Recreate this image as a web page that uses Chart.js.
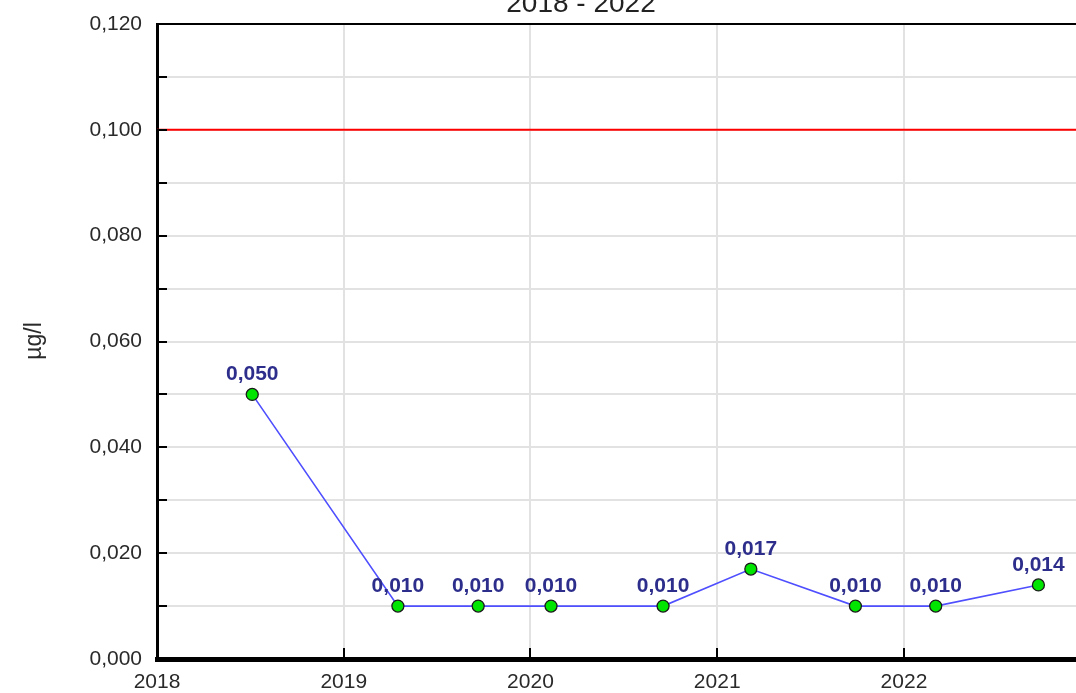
<!DOCTYPE html>
<html>
<head>
<meta charset="utf-8">
<script src="https://cdn.jsdelivr.net/npm/chart.js@4"></script>
<style>
	html, body { margin: 0; padding: 0; background: #fff; overflow: hidden; }
	#wrap { width: 1076px; height: 693px; overflow: hidden; }
	canvas { display: block; }
</style>
</head>
<body>
<div id="wrap"><canvas id="chart" width="1098" height="693"></canvas></div>
<script>
// Messwerte 2018 - 2022
const TITLE = '2018 - 2022';
const Y_TITLE = 'µg/l';
const SAMPLE_DATES = [2018.51, 2019.29, 2019.72, 2020.11, 2020.71, 2021.18, 2021.74, 2022.17, 2022.72];
const VALUES = [0.050, 0.010, 0.010, 0.010, 0.010, 0.017, 0.010, 0.010, 0.014];
const LIMIT = 0.100;
const YEARS = [2018, 2019, 2020, 2021, 2022];
const Y_LABELS = [0, 0.02, 0.04, 0.06, 0.08, 0.10, 0.12];

const FONT = '"Liberation Sans", Arial, sans-serif';
const fmt = v => v.toFixed(3).replace('.', ',');

// inward tick marks, frame, value labels and axis texts
const decor = {
	id: 'decor',
	afterDatasetsDraw(chart) {
		const { ctx, chartArea: a, scales: { x, y } } = chart;
		ctx.save();
		ctx.strokeStyle = '#000';
		ctx.lineWidth = 2;
		ctx.beginPath(); ctx.moveTo(a.left, a.top); ctx.lineTo(a.right, a.top); ctx.stroke();
		y.ticks.forEach(t => {
			const py = Math.round(y.getPixelForValue(t.value));
			ctx.beginPath(); ctx.moveTo(a.left, py); ctx.lineTo(a.left + 10, py); ctx.stroke();
		});
		x.ticks.forEach(t => {
			const px = Math.round(x.getPixelForValue(t.value));
			ctx.beginPath(); ctx.moveTo(px, a.bottom); ctx.lineTo(px, a.bottom - 11); ctx.stroke();
		});
		// value labels
		const meta = chart.getDatasetMeta(1);
		ctx.font = 'bold 21px ' + FONT;
		ctx.fillStyle = '#2d2d8c';
		ctx.textAlign = 'center';
		ctx.textBaseline = 'alphabetic';
		meta.data.forEach((p, i) => ctx.fillText(fmt(VALUES[i]), p.x, p.y - 14));
		ctx.restore();
	},
	afterDraw(chart) {
		const { ctx, scales: { x, y } } = chart;
		ctx.save();
		ctx.fillStyle = '#2a2a2a';
		ctx.font = '21px ' + FONT;
		ctx.textAlign = 'right';
		ctx.textBaseline = 'middle';
		Y_LABELS.forEach(v => ctx.fillText(fmt(v), 142, y.getPixelForValue(v)));
		ctx.textAlign = 'center';
		YEARS.forEach(yr => ctx.fillText(String(yr), x.getPixelForValue(yr), 682));
		// y axis title
		ctx.save();
		ctx.translate(35, 341);
		ctx.rotate(-Math.PI / 2);
		ctx.font = '23px ' + FONT;
		ctx.fillText(Y_TITLE, 0, 0);
		ctx.restore();
		// title (cut at top)
		ctx.fillStyle = '#222';
		ctx.font = '28px ' + FONT;
		ctx.textBaseline = 'alphabetic';
		ctx.fillText(TITLE, 581, 12);
		ctx.restore();
	}
};

new Chart(document.getElementById('chart'), {
	type: 'line',
	data: {
		datasets: [
			{ data: [{ x: 2018, y: LIMIT }, { x: 2023, y: LIMIT }], borderColor: '#ff0000', borderWidth: 2, pointRadius: 0, order: 2 },
			{
				data: SAMPLE_DATES.map((d, i) => ({ x: d, y: VALUES[i] })),
				borderColor: '#4f4fff', borderWidth: 1.6,
				pointRadius: 6, pointBackgroundColor: '#00e600', pointBorderColor: '#1a1a1a', pointBorderWidth: 1.3,
				order: 1
			}
		]
	},
	options: {
		responsive: false, animation: false, devicePixelRatio: 1,
		layout: { padding: { top: 24, left: 0, right: 0, bottom: 0 } },
		plugins: { legend: { display: false }, tooltip: { enabled: false }, title: { display: false } },
		scales: {
			x: {
				type: 'linear', min: 2018, max: 2023,
				ticks: { display: false, stepSize: 1 },
				grid: { color: '#e2e2e2', lineWidth: 2, drawTicks: false },
				border: { color: '#000', width: 5 },
				afterFit: s => { s.height = 34; }
			},
			y: {
				min: 0, max: 0.12,
				ticks: { display: false, stepSize: 0.01 },
				grid: { color: '#e2e2e2', lineWidth: 2, drawTicks: false },
				border: { color: '#000', width: 3 },
				afterFit: s => { s.width = 157; }
			}
		}
	},
	plugins: [decor]
});
</script>
</body>
</html>
